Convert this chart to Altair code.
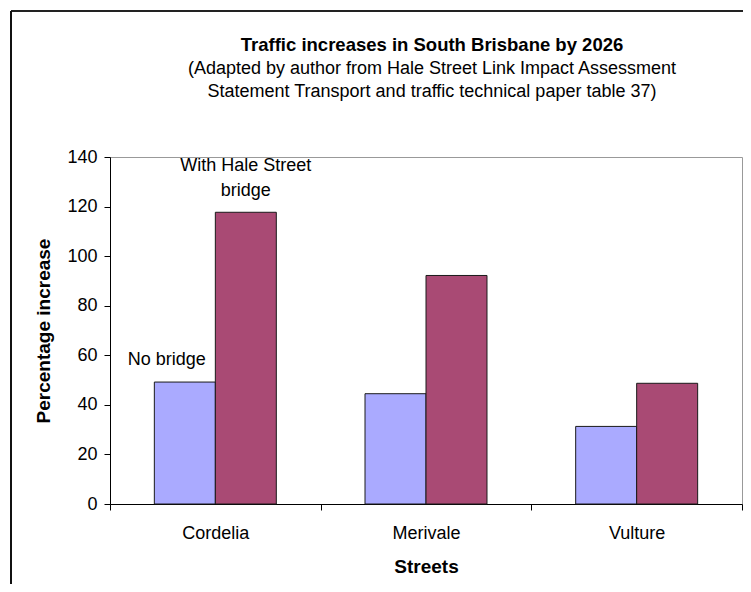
import altair as alt
import pandas as pd

# ---- data ----
streets = ["Cordelia", "Merivale", "Vulture"]
no_bridge = [49.2, 44.5, 31.3]
with_bridge = [117.7, 92.2, 48.7]
series_names = ["No bridge", "With Hale Street bridge"]
annotation_labels = ["No bridge", "With Hale Street\nbridge"]
y_ticks = [0, 20, 40, 60, 80, 100, 120, 140]
title_text = "Traffic increases in South Brisbane by 2026"
subtitle_lines = [
    "(Adapted by author from Hale Street Link Impact Assessment",
    "Statement Transport and traffic technical paper table 37)",
]

# ---- styling ----
colors = ["#AAAAFF", "#A94A74"]
FONT = "Liberation Sans"
W, H = 632, 347

rows = []
for s, a, b in zip(streets, no_bridge, with_bridge):
    rows.append({"Street": s, "Series": series_names[0], "Value": a})
    rows.append({"Street": s, "Series": series_names[1], "Value": b})
df = pd.DataFrame(rows)

ann_df = df[df["Street"] == streets[0]].copy()
ann_df["Label"] = annotation_labels

x_enc = alt.X(
    "Street:N",
    sort=streets,
    scale=alt.Scale(paddingInner=0, paddingOuter=0),
    axis=alt.Axis(
        title="Streets",
        labelAngle=0,
        tickBand="extent",
        tickSize=6,
        labelPadding=14,
        titlePadding=15,
    ),
)
xoff_enc = alt.XOffset(
    "Series:N", sort=series_names, scale=alt.Scale(paddingInner=0, paddingOuter=0.727)
)
y_enc = alt.Y(
    "Value:Q",
    scale=alt.Scale(domain=[0, 140], nice=False),
    axis=alt.Axis(
        values=y_ticks,
        title="Percentage increase",
        tickSize=6,
        labelPadding=7,
        titlePadding=13,
    ),
)

bars = alt.Chart(df).mark_bar(stroke="#1a1a1a", strokeWidth=1).encode(
    x=x_enc,
    xOffset=xoff_enc,
    y=y_enc,
    color=alt.Color(
        "Series:N", scale=alt.Scale(domain=series_names, range=colors), legend=None
    ),
)

ann_base = alt.Chart(ann_df).encode(
    x=alt.X("Street:N", sort=streets),
    xOffset=alt.XOffset("Series:N", sort=series_names),
    y="Value:Q",
    text="Label:N",
)
ann_no = ann_base.transform_filter(
    alt.datum.Series == series_names[0]
).mark_text(font=FONT, fontSize=18, color="black", baseline="middle", dx=-18, dy=-22)
ann_with = ann_base.transform_filter(
    alt.datum.Series == series_names[1]
).mark_text(
    font=FONT, fontSize=18, color="black", baseline="bottom", lineBreak="\n",
    lineHeight=25, dy=-37,
)

one = alt.Data(values=[{"k": 0}])
title_mark = alt.Chart(one).mark_text(
    font=FONT, fontSize=18.5, fontWeight="bold", color="black", baseline="alphabetic"
).encode(x=alt.value(W / 2 + 6), y=alt.value(-106), text=alt.value(title_text))
sub1 = alt.Chart(one).mark_text(
    font=FONT, fontSize=18, color="black", baseline="alphabetic"
).encode(x=alt.value(W / 2 + 6), y=alt.value(-83), text=alt.value(subtitle_lines[0]))
sub2 = alt.Chart(one).mark_text(
    font=FONT, fontSize=18, color="black", baseline="alphabetic"
).encode(x=alt.value(W / 2 + 6), y=alt.value(-60), text=alt.value(subtitle_lines[1]))

frame_top = alt.Chart(one).mark_rule(color="#222222", strokeWidth=2).encode(
    x=alt.value(-99), x2=alt.value(W + 20), y=alt.value(-146)
)
frame_left = alt.Chart(one).mark_rule(color="#111111", strokeWidth=2).encode(
    x=alt.value(-99), y=alt.value(-146), y2=alt.value(H + 100)
)

chart = (
    alt.layer(bars, ann_no, ann_with, title_mark, sub1, sub2, frame_top, frame_left)
    .properties(
        width=W,
        height=H,
        autosize=alt.AutoSizeParams(type="none"),
        padding={"left": 102, "top": 149, "right": 1, "bottom": 80},
        background="white",
    )
    .configure_view(stroke="#999999", strokeWidth=1)
    .configure_axis(
        grid=False,
        domainColor="black",
        domainWidth=1,
        tickColor="black",
        labelFont=FONT,
        labelFontSize=18,
        labelColor="black",
        titleFont=FONT,
        titleFontSize=19,
        titleFontWeight="bold",
        titleColor="black",
    )
)

chart.save("out.html", embed_options={"renderer": "svg", "actions": False})
